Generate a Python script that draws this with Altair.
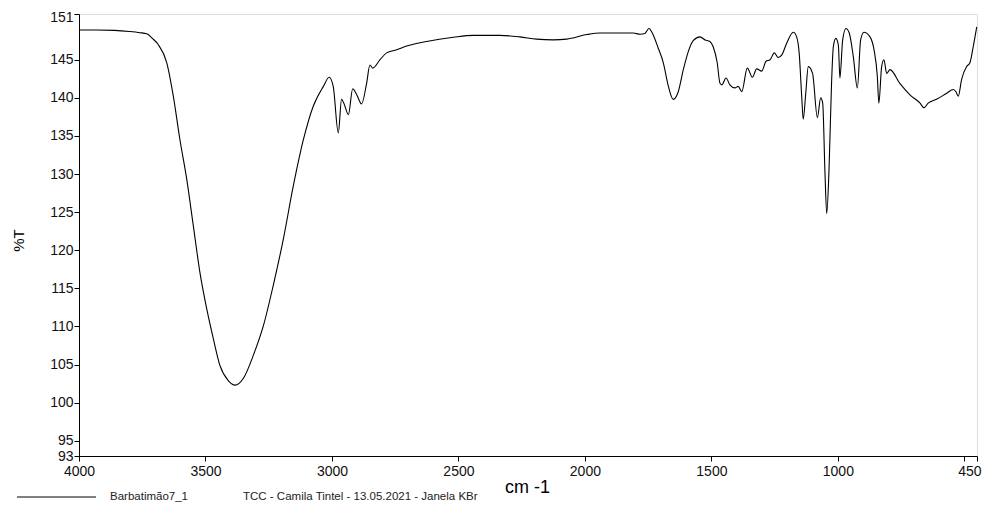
import altair as alt
import pandas as pd

# Wavenumber (cm-1) and transmittance (%T)
wavenumber = [
    4000, 3930, 3860, 3800, 3760, 3732, 3710, 3687, 3653, 3627, 3601, 3574, 3548, 3522,
    3495, 3469, 3443, 3410, 3383, 3350, 3311, 3271, 3232, 3192, 3153, 3113, 3074, 3034,
    3011, 2995, 2975, 2962, 2953, 2935, 2918, 2902, 2883, 2863, 2850, 2839, 2810, 2784,
    2744, 2705, 2626, 2520, 2441, 2336, 2257, 2191, 2125, 2072, 1993, 1940, 1809, 1782,
    1763, 1747, 1730, 1710, 1690, 1670, 1651, 1631, 1611, 1591, 1572, 1545, 1525, 1506,
    1493, 1477, 1466, 1459, 1442, 1427, 1407, 1394, 1380, 1358, 1338, 1321, 1301, 1284,
    1268, 1251, 1236, 1222, 1202, 1176, 1163, 1153, 1143, 1137, 1127, 1117, 1100, 1081,
    1068, 1060, 1051, 1044, 1035, 1025, 1018, 1008, 998, 992, 981, 968, 955, 939, 923,
    910, 897, 873, 857, 844, 838, 827, 818, 807, 794, 755, 715, 675, 660, 643, 610, 570,
    544, 533, 524, 511, 491, 478, 465, 451,
]
transmittance = [
    148.9, 148.9, 148.85, 148.7, 148.55, 148.4, 147.8, 147.0, 144.6, 140.2, 134.5, 129.3, 123.2, 117.1,
    112.3, 108.4, 104.9, 102.9, 102.3, 103.2, 106.2, 110.1, 115.4, 121.5, 128.4, 134.5, 138.9, 141.5,
    142.7, 141.5, 135.4, 139.8, 139.3, 137.8, 141.2, 140.4, 139.2, 141.9, 144.3, 143.9, 145.0, 145.9,
    146.3, 146.8, 147.4, 147.95, 148.2, 148.2, 148.0, 147.7, 147.6, 147.7, 148.3, 148.5, 148.5, 148.35,
    148.45, 149.1, 148.25, 146.5, 144.6, 141.5, 139.8, 140.8, 143.7, 146.1, 147.5, 148.0, 147.6, 147.4,
    146.7, 144.6, 141.9, 141.7, 142.6, 141.7, 141.3, 141.5, 140.8, 143.9, 142.7, 143.8, 143.5, 144.8,
    145.0, 145.9, 145.3, 145.6, 147.2, 148.6, 148.0, 145.9, 140.2, 137.2, 140.6, 144.1, 143.2, 137.4,
    140.0, 139.3, 130.2, 124.8, 130.6, 141.9, 146.7, 147.8, 146.9, 142.6, 147.6, 149.1, 148.5, 145.4, 141.3,
    147.6, 148.6, 148.0, 146.3, 142.8, 139.3, 144.1, 145.0, 143.2, 143.7, 141.9, 140.4, 139.3, 138.7, 139.3, 139.8, 140.6,
    141.1, 140.8, 140.2, 142.4, 144.1, 144.6, 146.7, 149.3,
]

x_ticks = [4000, 3500, 3000, 2500, 2000, 1500, 1000, 500, 450]
y_ticks = [93, 95, 100, 105, 110, 115, 120, 125, 130, 135, 140, 145, 151]

series_name = "Barbatimão7_1"
series_note = "TCC - Camila Tintel - 13.05.2021 - Janela KBr"

df = pd.DataFrame({"wn": wavenumber, "T": transmittance})
one = pd.DataFrame({"k": [0]})

FONT = "Liberation Sans"

line = alt.Chart(df).mark_line(color="black", strokeWidth=1.1, interpolate="monotone").encode(
    x=alt.X(
        "wn:Q",
        scale=alt.Scale(domain=[450, 4000], reverse=True, nice=False, zero=False),
        axis=alt.Axis(
            values=x_ticks, format="d", title="cm -1", grid=False,
            labelExpr="datum.value == 500 ? '' : datum.label",
            labelAlign={"condition": {"test": "datum.value == 450", "value": "right"}, "value": "center"},
            labelOffset={"condition": {"test": "datum.value == 450", "value": 4}, "value": 0},
            labelFontSize=14, labelFont=FONT, labelColor="#111", labelPadding=3,
            tickSize=5, tickColor="black", domainColor="black",
            labelOverlap=False, labelFlush=False,
            titleFont=FONT, titleFontSize=18, titleFontWeight="normal", titleColor="black",
            titleX=448, titleY=31, titleAlign="center", titleBaseline="middle",
        ),
    ),
    y=alt.Y(
        "T:Q",
        scale=alt.Scale(domain=[93, 151], nice=False, zero=False),
        axis=alt.Axis(
            values=y_ticks, title="%T", grid=False,
            labelOffset={"condition": {"test": "datum.value == 151", "value": 3}, "value": 0},
            labelFontSize=14, labelFont=FONT, labelColor="#111", labelPadding=1,
            tickSize=5, tickColor="black", domainColor="black",
            labelOverlap=False, labelFlush=False,
            titleFont=FONT, titleFontSize=15, titleFontWeight="normal", titleColor="black",
            titleX=-61, titleY=226, titleAlign="center", titleBaseline="middle", titleAngle=-90,
        ),
    ),
)

legend_line = alt.Chart(one).mark_rule(color="black", strokeWidth=1).encode(
    x=alt.value(-62), x2=alt.value(17), y=alt.value(483)
)
legend_name = alt.Chart(one).mark_text(
    text=series_name, align="left", baseline="alphabetic", font=FONT, fontSize=11.5, color="#222"
).encode(x=alt.value(31), y=alt.value(486))
legend_note = alt.Chart(one).mark_text(
    text=series_note, align="left", baseline="alphabetic", font=FONT, fontSize=11.5, color="#222"
).encode(x=alt.value(164), y=alt.value(486))

chart = alt.layer(line, legend_line, legend_name, legend_note).properties(
    width=898, height=442,
    autosize=alt.AutoSizeParams(type="none"),
    padding={"left": 71, "top": 6, "right": 5, "bottom": 46},
).configure_view(stroke=None).configure(background="white")

chart.save("out.html", embed_options={"renderer": "svg", "actions": False})
